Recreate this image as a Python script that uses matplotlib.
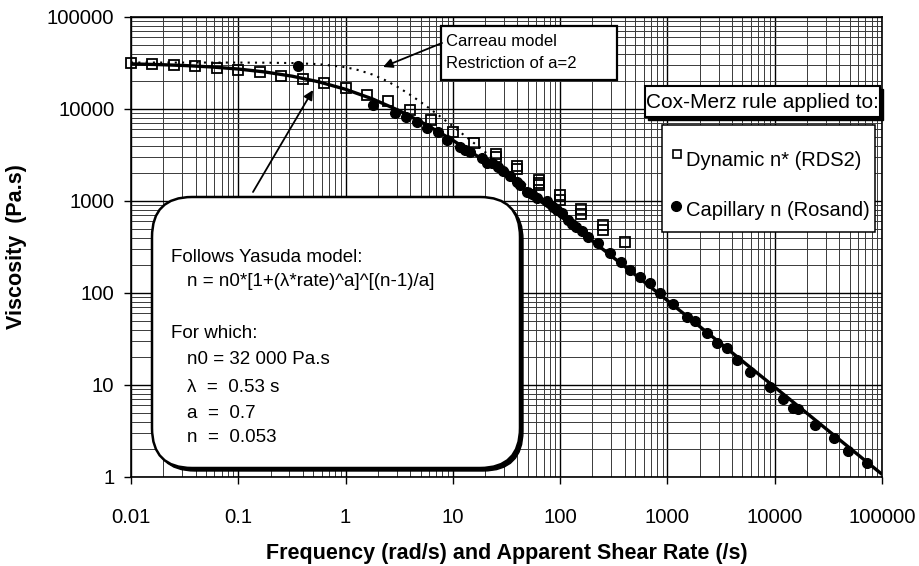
import numpy as np
import matplotlib
matplotlib.use("Agg")
import matplotlib.pyplot as plt
from matplotlib.transforms import IdentityTransform
from matplotlib.patches import Rectangle, FancyBboxPatch, FancyArrowPatch
from matplotlib.lines import Line2D

plt.rcParams['font.family'] = ['Liberation Sans', 'DejaVu Sans']

# ---------------- data ----------------
dyn_rate = [0.01, 0.0158, 0.0251, 0.0398, 0.0631, 0.1, 0.158, 0.251, 0.398, 0.631,
            1.0, 1.58, 2.51, 3.98, 6.31, 10, 15.8, 25.1, 25.1, 39.8, 39.8,
            63.1, 63.1, 63.1, 100, 100, 158, 158, 251, 251, 398]
dyn_visc = [31400, 30600, 29850, 29100, 28100, 26560, 25430, 22840, 21190, 19170,
            17060, 14300, 12100, 9800, 7500, 5660, 4250, 3243, 3008, 2420, 2228,
            1679, 1581, 1493, 1148, 1038, 819, 722, 548, 490, 356]

cap_rate = [0.362, 1.81, 2.89, 3.66, 4.63, 5.70, 7.31, 8.91, 11.6, 13.0, 14.4,
            18.6, 20.7, 23.0, 26.3, 29.5, 34.1, 39.3, 42.2, 49.6, 54.6, 61.4,
            74.8, 86.2, 93.4, 103, 119, 129, 142, 160, 183, 227, 291, 366, 447,
            554, 687, 851, 1133, 1510, 1804, 2320, 2912, 3562, 4415, 5873, 9020,
            11850, 14880, 16560, 23950, 35620, 48110, 71850]
cap_visc = [29340, 11050, 8980, 8250, 7224, 6140, 5670, 4660, 3890, 3584, 3430,
            2970, 2590, 2570, 2342, 2145, 1893, 1621, 1493, 1262, 1192, 1070,
            1000, 867, 798, 735, 622, 562, 526, 472, 409, 347, 270, 219, 178,
            150, 128, 99, 76, 55.3, 50.2, 36.5, 28.4, 25.1, 18.7, 13.95, 9.44,
            6.99, 5.58, 5.44, 3.72, 2.64, 1.92, 1.43]

yasuda_rate = [0.01, 0.0178, 0.0316, 0.0562, 0.1, 0.178, 0.316, 0.562, 1, 1.78,
               3.16, 5.62, 10, 17.8, 31.6, 56.2, 100, 178, 316, 562, 1000, 1780,
               3160, 5620, 10000, 17800, 31600, 56200, 100000]
yasuda_visc = [30930, 30420, 29680, 28640, 27190, 25250, 22760, 19750, 16370,
               12880, 9600, 6780, 4570, 2960, 1860, 1140, 687, 409, 241, 142,
               82.7, 48.2, 28.1, 16.3, 9.48, 5.50, 3.19, 1.85, 1.07]

carreau_rate = [0.01, 0.1, 0.178, 0.316, 0.562, 1, 1.33, 1.78, 2.37, 3.16, 4.22,
                5.62, 7.5, 10, 17.8, 31.6, 56.2, 100]
carreau_visc = [32000, 31960, 31870, 31580, 30740, 28460, 26410, 23680, 20430,
                16990, 13700, 10820, 8412, 6490, 3800, 2210, 1284, 745]

x_ticks = [0.01, 0.1, 1, 10, 100, 1000, 10000, 100000]
x_tick_labels = ["0.01", "0.1", "1", "10", "100", "1000", "10000", "100000"]
y_ticks = [1, 10, 100, 1000, 10000, 100000]
y_tick_labels = ["1", "10", "100", "1000", "10000", "100000"]

W, H = 920, 566
fig = plt.figure(figsize=(W / 100, H / 100), dpi=100)
ax = fig.add_axes([131 / W, (H - 477) / H, 751 / W, 460 / H])
ax.set_xscale('log')
ax.set_yscale('log')
ax.set_xlim(0.01, 100000)
ax.set_ylim(1, 100000)

ax.grid(True, which='major', color='black', lw=1.0)
ax.grid(True, which='minor', color='#3a3a3a', lw=0.7)
ax.set_axisbelow(True)

ax.set_xticks(x_ticks)
ax.set_xticklabels(x_tick_labels)
ax.set_yticks(y_ticks)
ax.set_yticklabels(y_tick_labels)
ax.tick_params(which='major', direction='out', length=5, width=1,
               labelsize=14.7, colors='black')
ax.tick_params(axis='x', pad=17)
ax.tick_params(axis='y', pad=7)
ax.tick_params(which='minor', length=0)
for s in ax.spines.values():
    s.set_color('black')
    s.set_linewidth(1.2)

ax.set_xlabel("Frequency (rad/s) and Apparent Shear Rate (/s)", fontsize=15.5,
              fontweight='bold', labelpad=12)
ax.set_ylabel("Viscosity  (Pa.s)", fontsize=15.5, fontweight='bold', labelpad=14)

ax.plot(carreau_rate, carreau_visc, color='black', lw=1.5,
        linestyle=(0, (1, 2.5)), zorder=3)
ax.plot(dyn_rate, dyn_visc, linestyle='none', marker='s', ms=6.5, mfc='none',
        mec='black', mew=1.3, zorder=5, clip_on=False)
ax.plot(cap_rate, cap_visc, linestyle='none', marker='o', ms=7, mfc='black',
        mec='black', zorder=4)
ax.plot(yasuda_rate, yasuda_visc, color='black', lw=2.4, zorder=6,
        solid_capstyle='butt')

T = IdentityTransform()


def disp(x, y):
    return x, H - y


# Carreau box
x0, y0, x1, y1 = 441, 26, 617, 80
fig.add_artist(Rectangle(disp(x0, y1), x1 - x0, y1 - y0, transform=T,
                         fc='white', ec='black', lw=1.6, zorder=5))
fig.text(*disp(446, 41), "Carreau model", transform=T, fontsize=12,
         va='center', ha='left', zorder=6)
fig.text(*disp(446, 64), "Restriction of a=2", transform=T, fontsize=12,
         va='center', ha='left', zorder=6)

# Cox-Merz title box with shadow
x0, y0, x1, y1 = 645, 86, 880, 117
fig.add_artist(Rectangle(disp(x0 + 3, y1 + 3), x1 - x0, y1 - y0, transform=T,
                         fc='black', ec='black', lw=1, zorder=5))
fig.add_artist(Rectangle(disp(x0, y1), x1 - x0, y1 - y0, transform=T,
                         fc='white', ec='black', lw=1.5, zorder=5))
fig.text(*disp(762.5, 102), "Cox-Merz rule applied to:", transform=T,
         fontsize=15, va='center', ha='center', zorder=6)

# Legend box
x0, y0, x1, y1 = 662, 125, 875, 232
fig.add_artist(Rectangle(disp(x0, y1), x1 - x0, y1 - y0, transform=T,
                         fc='white', ec='black', lw=1.1, zorder=5))
fig.add_artist(Line2D([676.5], [H - 154], transform=T, marker='s', ms=5.5,
                      mfc='white', mec='black', mew=1.2, zorder=6))
fig.text(*disp(686, 160), "Dynamic n* (RDS2)", transform=T, fontsize=14.5,
         va='center', ha='left', zorder=6)
fig.add_artist(Line2D([675.5], [H - 206], transform=T, marker='o', ms=7,
                      mfc='black', mec='black', zorder=6))
fig.text(*disp(686, 210), "Capillary n (Rosand)", transform=T, fontsize=14.5,
         va='center', ha='left', zorder=6)

# Yasuda rounded box with shadow
x0, y0, x1, y1 = 152, 197, 520, 468
fig.add_artist(FancyBboxPatch(disp(x0 + 3, y1 + 3), x1 - x0, y1 - y0,
                              boxstyle="round,pad=0,rounding_size=40",
                              transform=T, fc='black', ec='black', lw=1,
                              zorder=5))
fig.add_artist(FancyBboxPatch(disp(x0, y1), x1 - x0, y1 - y0,
                              boxstyle="round,pad=0,rounding_size=40",
                              transform=T, fc='white', ec='black', lw=1.8,
                              zorder=5))
lines = [(171, 258, "Follows Yasuda model:"),
         (187, 282, "n = n0*[1+(λ*rate)^a]^[(n-1)/a]"),
         (171, 333, "For which:"),
         (187, 360, "n0 = 32 000 Pa.s"),
         (187, 387, "λ  =  0.53 s"),
         (187, 413, "a  =  0.7"),
         (187, 438, "n  =  0.053")]
for lx, ly, s in lines:
    fig.text(*disp(lx, ly), s, transform=T, fontsize=13.5, va='center',
             ha='left', zorder=6)

# arrows
for tail, head in [((442, 43), (383, 67)), ((253, 192), (313, 90))]:
    fig.add_artist(FancyArrowPatch(disp(*tail), disp(*head), transform=T,
                                   arrowstyle='-|>', mutation_scale=14,
                                   color='black', lw=1.3, zorder=7,
                                   shrinkA=0, shrinkB=0))

fig.savefig("out.png", dpi=100)
